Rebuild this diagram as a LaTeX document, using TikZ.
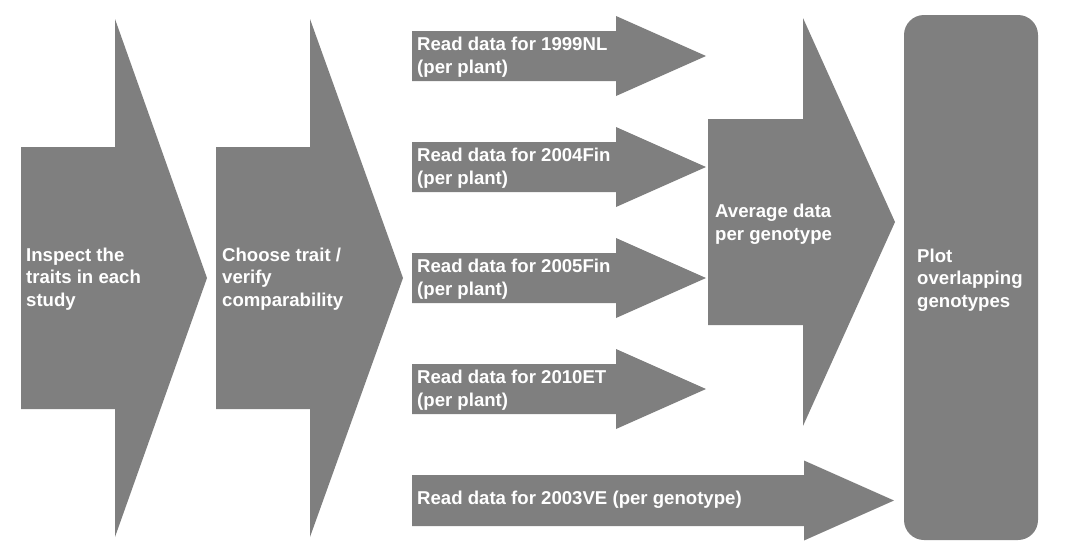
\documentclass[tikz,border=0pt]{standalone}
\usepackage{fontspec}
\setmainfont{Liberation Sans}
\definecolor{boxgray}{HTML}{7F7F7F}
\tikzset{
  shp/.style={fill=boxgray, draw=none},
  lbl/.style={text=white, font=\bfseries\fontsize{18.6}{22.5}\selectfont, align=left, anchor=west, inner sep=0pt},
}
% #1 body left x, #2 head base x, #3 tip x, #4 centre y, #5 body half height, #6 head half height
\newcommand\FatArrow[6]{%
  \fill[shp] ({#1},{#4-#5}) -- ({#2},{#4-#5}) -- ({#2},{#4-#6}) -- ({#3},{#4})
    -- ({#2},{#4+#6}) -- ({#2},{#4+#5}) -- ({#1},{#4+#5}) -- cycle;}
\begin{document}
\begin{tikzpicture}[x=1pt,y=-1pt]
\useasboundingbox (0,0) rectangle (1080,552);
% big arrows
\FatArrow{21}{115}{207}{278}{131}{259}
\node[lbl] (inspect) at (26,279) {Inspect the\\traits in each\\study};
\FatArrow{216}{310}{403}{278}{131}{259}
\node[lbl] (choose) at (222,279) {Choose trait /\\verify\\comparability};
% read-data arrows
\FatArrow{412}{616}{706}{56}{25}{40}
\node[lbl] (r1999) at (417,57) {Read data for 1999NL\\(per plant)};
\FatArrow{412}{616}{706}{167}{25}{40}
\node[lbl] (r2004) at (417,168) {Read data for 2004Fin\\(per plant)};
\FatArrow{412}{616}{706}{278}{25}{40}
\node[lbl] (r2005) at (417,279) {Read data for 2005Fin\\(per plant)};
\FatArrow{412}{616}{706}{389}{25}{40}
\node[lbl] (r2010) at (417,390) {Read data for 2010ET\\(per plant)};
\FatArrow{412}{804}{894}{500.5}{25.5}{40}
\node[lbl] (r2003) at (417,500) {Read data for 2003VE (per genotype)};
% average arrow
\FatArrow{708}{803}{895}{222}{103}{204}
\node[lbl] (avg) at (715,224) {Average data\\per genotype};
% plot box
\fill[shp, rounded corners=20pt] (904,15) rectangle (1038,540);
\node[lbl] (plot) at (917,280) {Plot\\overlapping\\genotypes};
\end{tikzpicture}
\end{document}
